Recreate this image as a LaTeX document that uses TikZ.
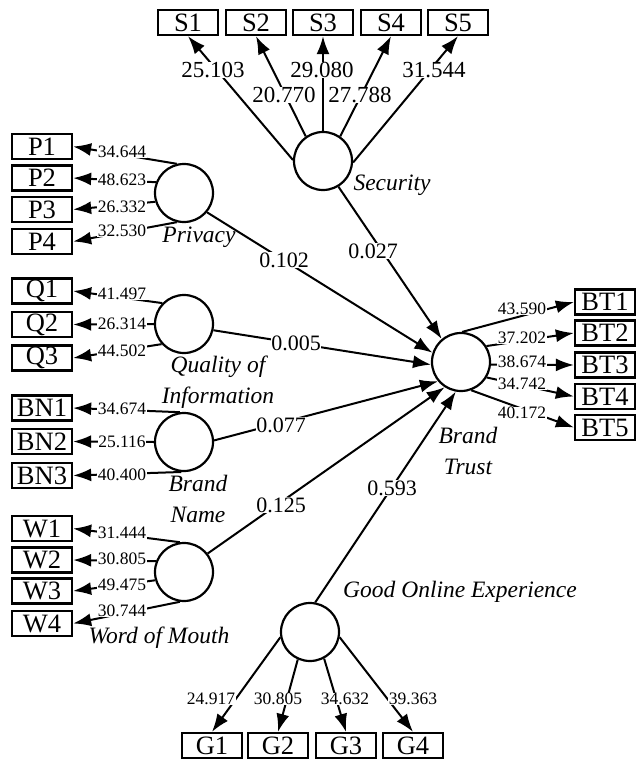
\documentclass[tikz,border=0pt]{standalone}
\usepackage{fontspec}
\setmainfont{Liberation Serif}
\usetikzlibrary{arrows.meta}
\begin{document}
\begin{tikzpicture}[x=1pt,y=-1pt,
  ind/.style={draw, line width=2.3pt, minimum width=60pt, minimum height=25pt, inner sep=0pt, font=\fontsize{26.5}{26.5}\selectfont},
  lat/.style={circle, draw, line width=2.2pt, minimum size=58pt, inner sep=0pt},
  latlbl/.style={font=\fontsize{23.5}{31}\selectfont\itshape, align=center, inner sep=0pt},
  ld/.style={fill=white, inner sep=0.5pt, font=\fontsize{17.5}{18}\selectfont},
  lds/.style={fill=white, inner sep=0.5pt, font=\fontsize{23}{23}\selectfont},
  pc/.style={fill=white, inner sep=0.5pt, font=\fontsize{22}{22}\selectfont},
  arr/.style={line width=2pt, -{Latex[length=18pt,width=13pt]}}]
\useasboundingbox (0,0) rectangle (641,760);
% latent variables
\node[lat] (sec) at (323,161) {};
\node[lat] (priv) at (184,193) {};
\node[lat] (qual) at (184,324) {};
\node[lat] (bn) at (184,442) {};
\node[lat] (wom) at (184,572) {};
\node[lat] (bt) at (461,362) {};
\node[lat] (goe) at (310,632) {};
% latent labels
\node[latlbl] (secl) at (392,185) {Security};
\node[latlbl] (privl) at (199,237) {Privacy};
\node[latlbl] (quall) at (218,382) {Quality of\\Information};
\node[latlbl] (bnl) at (198,499) {Brand\\Name};
\node[latlbl] (woml) at (159,638) {Word of Mouth};
\node[latlbl] (btl) at (468,451) {Brand\\Trust};
\node[latlbl] (goel) at (460,592) {Good Online Experience};
% indicators
\node[ind] (S1) at (188,22.5) {S1};
\node[ind] (S2) at (256,22.5) {S2};
\node[ind] (S3) at (323,22.5) {S3};
\node[ind] (S4) at (391,22.5) {S4};
\node[ind] (S5) at (458,22.5) {S5};
\node[ind] (P1) at (42,146.5) {P1};
\node[ind] (P2) at (42,178) {P2};
\node[ind] (P3) at (42,209.5) {P3};
\node[ind] (P4) at (42,241.5) {P4};
\node[ind] (Q1) at (42,291) {Q1};
\node[ind] (Q2) at (42,324.5) {Q2};
\node[ind] (Q3) at (42,358) {Q3};
\node[ind] (BN1) at (42,408) {BN1};
\node[ind] (BN2) at (42,441.5) {BN2};
\node[ind] (BN3) at (42,475.5) {BN3};
\node[ind] (W1) at (42,528.5) {W1};
\node[ind] (W2) at (42,560) {W2};
\node[ind] (W3) at (42,591) {W3};
\node[ind] (W4) at (42,623.5) {W4};
\node[ind] (BT1) at (605,302) {BT1};
\node[ind] (BT2) at (605,333) {BT2};
\node[ind] (BT3) at (605,365) {BT3};
\node[ind] (BT4) at (605,396.5) {BT4};
\node[ind] (BT5) at (605,427.5) {BT5};
\node[ind] (G1) at (212,745.5) {G1};
\node[ind] (G2) at (278,745.5) {G2};
\node[ind] (G3) at (346,745.5) {G3};
\node[ind] (G4) at (413,745.5) {G4};
% security loadings
\draw[arr] (sec.178) -- (S1.south);
\draw[arr] (sec.125) -- (S2.south);
\draw[arr] (sec.90) -- (S3.south);
\draw[arr] (sec.55) -- (S4.south);
\draw[arr] (sec.-3) -- (S5.south);
% privacy loadings
\draw[arr] (priv.104) -- (P1.east);
\draw[arr] (priv.159) -- (P2.east);
\draw[arr] (priv.197) -- (P3.east);
\draw[arr] (priv.256) -- (P4.east);
% quality loadings
\draw[arr] (qual.136) -- (Q1.east);
\draw[arr] (qual.180) -- (Q2.east);
\draw[arr] (qual.222) -- (Q3.east);
% brand name loadings
\draw[arr] (bn.98) -- (BN1.east);
\draw[arr] (bn.180) -- (BN2.east);
\draw[arr] (bn.265) -- (BN3.east);
% word of mouth loadings
\draw[arr] (wom.98) -- (W1.east);
\draw[arr] (wom.159) -- (W2.east);
\draw[arr] (wom.196) -- (W3.east);
\draw[arr] (wom.262) -- (W4.east);
% brand trust loadings
\draw[arr] (bt.88) -- (BT1.west);
\draw[arr] (bt.32) -- (BT2.west);
\draw[arr] (bt.-5) -- (BT3.west);
\draw[arr] (bt.-31) -- (BT4.west);
\draw[arr] (bt.-70) -- (BT5.west);
% good online experience loadings
\draw[arr] (goe.190) -- (G1.north);
\draw[arr] (goe.246) -- (G2.north);
\draw[arr] (goe.298) -- (G3.north);
\draw[arr] (goe.-10) -- (G4.north);
% structural paths
\draw[arr] (priv.-40) -- (bt.162);
\draw[arr] (sec.-59) -- (bt.130);
\draw[arr] (qual.-12) -- (bt.185);
\draw[arr] (bn.3) -- (bt.220);
\draw[arr] (wom.38) -- (bt.237);
\draw[arr] (goe.80) -- (bt.260);
% loading labels
\node[lds] (l1) at (213,70) {25.103};
\node[lds] (l2) at (284,95) {20.770};
\node[lds] (l3) at (322,70) {29.080};
\node[lds] (l4) at (360,95) {27.788};
\node[lds] (l5) at (434,70) {31.544};
\node[ld] (lp1) at (122,152) {34.644};
\node[ld] (lp2) at (122,180) {48.623};
\node[ld] (lp3) at (122,207) {26.332};
\node[ld] (lp4) at (122,231) {32.530};
\node[ld] (lq1) at (122,294) {41.497};
\node[ld] (lq2) at (122,324) {26.314};
\node[ld] (lq3) at (122,351) {44.502};
\node[ld] (lb1) at (122,409) {34.674};
\node[ld] (lb2) at (122,442) {25.116};
\node[ld] (lb3) at (122,475) {40.400};
\node[ld] (lw1) at (122,533) {31.444};
\node[ld] (lw2) at (122,559) {30.805};
\node[ld] (lw3) at (122,585) {49.475};
\node[ld] (lw4) at (122,611) {30.744};
\node[ld] (lt1) at (522,309) {43.590};
\node[ld] (lt2) at (522,338) {37.202};
\node[ld] (lt3) at (522,362) {38.674};
\node[ld] (lt4) at (522,384) {34.742};
\node[ld] (lt5) at (522,413) {40.172};
\node[ld] (lg1) at (211,699) {24.917};
\node[ld] (lg2) at (278,699) {30.805};
\node[ld] (lg3) at (345,699) {34.632};
\node[ld] (lg4) at (413,699) {39.363};
% path coefficients
\node[pc] (c1) at (284,260) {0.102};
\node[pc] (c2) at (373,251) {0.027};
\node[pc] (c3) at (296,343) {0.005};
\node[pc] (c4) at (281,425) {0.077};
\node[pc] (c5) at (281,505) {0.125};
\node[pc] (c6) at (392,488) {0.593};
\end{tikzpicture}
\end{document}
